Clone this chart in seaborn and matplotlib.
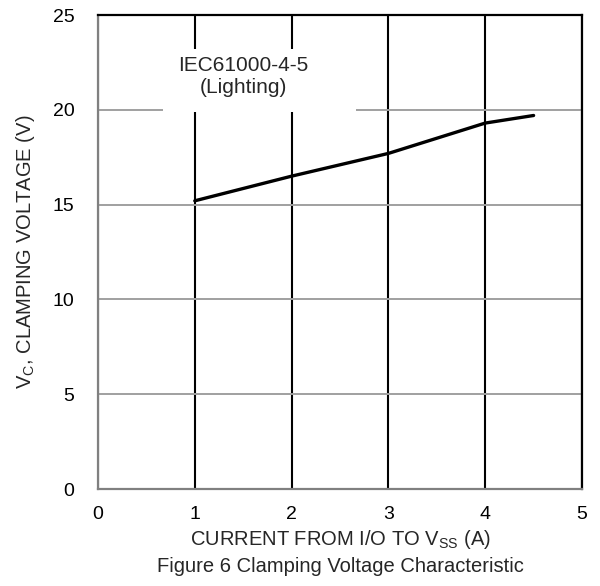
import seaborn as sns
import matplotlib.pyplot as plt
import pandas as pd
from matplotlib.patches import Rectangle

# data
current = [1, 2, 3, 4, 4.5]
voltage = [15.2, 16.5, 17.7, 19.3, 19.7]
x_ticks = [0, 1, 2, 3, 4, 5]
y_ticks = [0, 5, 10, 15, 20, 25]

df = pd.DataFrame({'current': current, 'voltage': voltage})

sns.set_style('white')
plt.rcParams['font.family'] = ['Liberation Sans', 'DejaVu Sans']
plt.rcParams['mathtext.fontset'] = 'custom'
plt.rcParams['mathtext.rm'] = 'Liberation Sans'
plt.rcParams['mathtext.it'] = 'Liberation Sans'

fig = plt.figure(figsize=(6, 5.86), dpi=100)
ax = fig.add_axes([98 / 600, 1 - 489 / 586, (582 - 98) / 600, (489 - 15) / 586])

sns.lineplot(x='current', y='voltage', data=df, color='black', linewidth=2.4, ax=ax, zorder=3)

ax.set_xlim(0, 5)
ax.set_ylim(0, 25)
ax.set_xticks(x_ticks)
ax.set_yticks(y_ticks)
ax.tick_params(axis='both', length=0, labelsize=14, colors='black')
ax.tick_params(axis='x', pad=12)
ax.tick_params(axis='y', pad=17)

ax.set_axisbelow(True)
ax.xaxis.grid(True, color='black', linewidth=1.5)
ax.yaxis.grid(True, color='#a0a0a0', linewidth=1.4)

for side in ['top', 'right']:
    ax.spines[side].set_color('black')
    ax.spines[side].set_linewidth(1.6)
for side in ['left', 'bottom']:
    ax.spines[side].set_color('#808080')
    ax.spines[side].set_linewidth(1.6)

# white box behind the annotation
ax.add_patch(Rectangle((0.67, 19.9), 2.0, 3.3, facecolor='white', edgecolor='none', zorder=1))
ax.text(1.5, 21.75, 'IEC61000-4-5\n(Lighting)', ha='center', va='center',
        fontsize=15, zorder=2, linespacing=1.2)

ax.set_xlabel(r'CURRENT FROM I/O TO V$_{\mathrm{SS}}$ (A)', fontsize=14.5, labelpad=4)
ax.set_ylabel(r'V$_{\mathrm{C}}$, CLAMPING VOLTAGE (V)', fontsize=14.5, labelpad=11)

fig.text(340 / 600, 1 - 566 / 586, 'Figure 6 Clamping Voltage Characteristic',
         ha='center', va='center', fontsize=14.5)

fig.savefig('out.png', dpi=100)
